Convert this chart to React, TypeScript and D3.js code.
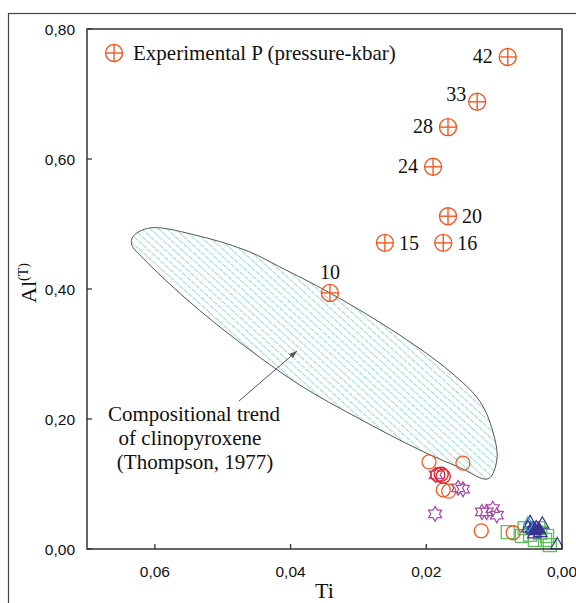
import React from "react";
import * as d3 from "d3";

// Experimental points: Ti, Al(T), pressure label (kbar)
const expTi = [0.008, 0.0125, 0.0168, 0.019, 0.0168, 0.0175, 0.0261, 0.0342];
const expAl = [0.757, 0.688, 0.649, 0.588, 0.512, 0.471, 0.471, 0.394];
const expLabels = ["42", "33", "28", "24", "20", "16", "15", "10"];
const expLabelSide = ["left", "upleft", "left", "left", "right", "right", "right", "top"];

// open orange circles
const circleTi = [0.0196, 0.0146, 0.0175, 0.0167, 0.0119, 0.0072];
const circleAl = [0.134, 0.132, 0.091, 0.089, 0.028, 0.025];

// darker red circles (overlapping)
const redTi = [0.0183, 0.0178, 0.0175];
const redAl = [0.114, 0.115, 0.112];

// purple stars
const starTi = [0.0186, 0.0153, 0.0146, 0.0187, 0.0118, 0.0111, 0.0102, 0.0096];
const starAl = [0.114, 0.094, 0.092, 0.054, 0.057, 0.057, 0.062, 0.052];

// green squares
const squareTi = [0.008, 0.0055, 0.0047, 0.004, 0.0032, 0.0025, 0.0018, 0.0059, 0.0035, 0.0022];
const squareAl = [0.026, 0.032, 0.022, 0.014, 0.025, 0.014, 0.006, 0.02, 0.032, 0.02];

// navy triangles
const triTi = [0.0047, 0.0029, 0.0007, 0.0043, 0.0038, 0.005, 0.0032, 0.0041];
const triAl = [0.04, 0.038, 0.006, 0.029, 0.032, 0.032, 0.025, 0.023];
const triFillTi = [0.0045, 0.0039, 0.0034];
const triFillAl = [0.031, 0.028, 0.03];

// cyan diamond
const diamondTi = [0.005];
const diamondAl = [0.038];

// clinopyroxene trend field outline (Thompson, 1977)
const fieldTi = [0.0632, 0.0607, 0.0533, 0.046, 0.0416, 0.0342, 0.0239, 0.0165, 0.0121, 0.0102, 0.0096, 0.0109, 0.015, 0.0209, 0.0298, 0.0386, 0.0475, 0.0553, 0.0617, 0.0634];
const fieldAl = [0.481, 0.494, 0.481, 0.457, 0.434, 0.394, 0.329, 0.273, 0.227, 0.181, 0.137, 0.108, 0.125, 0.152, 0.2, 0.252, 0.318, 0.384, 0.447, 0.468];

const xTicks = [0.06, 0.04, 0.02, 0.0];
const yTicks = [0.0, 0.2, 0.4, 0.6, 0.8];

const W = 576;
const H = 603;
const left = 87, right = 562, top = 29, bottom = 549;

const x = d3.scaleLinear().domain([0.07, 0]).range([left, right]);
const y = d3.scaleLinear().domain([0, 0.8]).range([bottom, top]);
const fmt = (v: number) => d3.format(".2f")(v).replace(".", ",");

const serif = "'Liberation Serif', 'Times New Roman', serif";
const sans = "'Liberation Sans', Arial, sans-serif";

const ORANGE = "#f15a24";
const RED = "#e3262a";
const PURPLE = "#a84aa8";
const GREEN = "#5cbf5c";
const NAVY = "#3b338f";

function hexagram(r: number) {
  const pts: [number, number][] = [];
  for (let i = 0; i < 12; i++) {
    const a = (Math.PI / 6) * i - Math.PI / 2;
    const rr = i % 2 === 0 ? r : r * 0.58;
    pts.push([rr * Math.cos(a), rr * Math.sin(a)]);
  }
  return "M" + pts.map((p) => p.join(",")).join("L") + "Z";
}

const triPath = d3.symbol().type(d3.symbolTriangle).size(75)() as string;
const diamondPath = d3.symbol().type(d3.symbolDiamond).size(70)() as string;
const starPath = hexagram(7.5);

function labelPos(side: string) {
  switch (side) {
    case "left":
      return { dx: -15, dy: 6, anchor: "end" };
    case "upleft":
      return { dx: -11, dy: -1, anchor: "end" };
    case "right":
      return { dx: 14, dy: 7, anchor: "start" };
    default:
      return { dx: 0, dy: -14, anchor: "middle" };
  }
}

function CrossCircle({ cx, cy }: { cx: number; cy: number }) {
  const r = 8.5;
  return (
    <g stroke={ORANGE} strokeWidth={1.4} fill="none">
      <circle cx={cx} cy={cy} r={r} />
      <line x1={cx - r} x2={cx + r} y1={cy} y2={cy} />
      <line x1={cx} x2={cx} y1={cy - r} y2={cy + r} />
    </g>
  );
}

export default function App() {
  const fieldLine = d3
    .line<number>()
    .x((_, i) => x(fieldTi[i]))
    .y((_, i) => y(fieldAl[i]))
    .curve(d3.curveCatmullRomClosed.alpha(0.5));

  return (
    <svg
      width={W}
      height={H}
      style={{ position: "absolute", left: 0, top: 0, background: "#fff" }}
    >
      <defs>
        <pattern id="hatch" width="12" height="5.6" patternUnits="userSpaceOnUse" patternTransform="rotate(42)">
          <line x1="0" x2="12" y1="2.5" y2="2.5" stroke="#7fd0d0" strokeWidth="0.9" strokeDasharray="5 1" />
        </pattern>
        <clipPath id="plot">
          <rect x={left} y={top} width={right - left} height={bottom - top + 10} />
        </clipPath>
      </defs>

      {/* outer frame */}
      <rect x={8.5} y={13.5} width={620} height={640} fill="none" stroke="#444" strokeWidth={1.2} />

      {/* clinopyroxene field */}
      <path d={fieldLine(fieldTi) as string} fill="url(#hatch)" stroke="#555" strokeWidth={1} />

      {/* annotation */}
      <g fontFamily={serif} fontSize={21} fill="#111" textAnchor="middle">
        <text x={194} y={421}>Compositional trend</text>
        <text x={190} y={445}>of clinopyroxene</text>
        <text x={195} y={469}>(Thompson, 1977)</text>
      </g>
      <line x1={239} y1={401} x2={297} y2={351} stroke="#555" strokeWidth={1} />
      <path d="M297,351 L289,354 L293,358 Z" fill="#555" />

      {/* scatter */}
      <g clipPath="url(#plot)">
        {squareTi.map((t, i) => (
          <rect key={"s" + i} x={x(t) - 6.5} y={y(squareAl[i]) - 6.5} width={13} height={13} fill="none" stroke={GREEN} strokeWidth={1.3} />
        ))}
        {circleTi.map((t, i) => (
          <circle key={"c" + i} cx={x(t)} cy={y(circleAl[i])} r={7} fill="none" stroke={ORANGE} strokeWidth={1.3} />
        ))}
        {starTi.map((t, i) => (
          <path key={"st" + i} d={starPath} transform={`translate(${x(t)},${y(starAl[i])})`} fill="none" stroke={PURPLE} strokeWidth={1.2} />
        ))}
        {redTi.map((t, i) => (
          <circle key={"r" + i} cx={x(t)} cy={y(redAl[i])} r={7} fill="none" stroke={RED} strokeWidth={1.4} />
        ))}
        {triFillTi.map((t, i) => (
          <path key={"tf" + i} d={triPath} transform={`translate(${x(t)},${y(triFillAl[i])})`} fill={NAVY} stroke={NAVY} strokeWidth={1} />
        ))}
        {triTi.map((t, i) => (
          <path key={"t" + i} d={triPath} transform={`translate(${x(t)},${y(triAl[i])})`} fill="none" stroke={NAVY} strokeWidth={1.2} />
        ))}
        {diamondTi.map((t, i) => (
          <path key={"d" + i} d={diamondPath} transform={`translate(${x(t)},${y(diamondAl[i])})`} fill="none" stroke="#3aa8dc" strokeWidth={1.2} />
        ))}
      </g>

      {/* experimental P points */}
      {expTi.map((t, i) => {
        const cx = x(t);
        const cy = y(expAl[i]);
        const lp = labelPos(expLabelSide[i]);
        return (
          <g key={"e" + i}>
            <CrossCircle cx={cx} cy={cy} />
            <text x={cx + lp.dx} y={cy + lp.dy} textAnchor={lp.anchor as any} fontFamily={serif} fontSize={20} fill="#111">
              {expLabels[i]}
            </text>
          </g>
        );
      })}

      {/* legend */}
      <CrossCircle cx={114} cy={53} />
      <text x={133} y={60} fontFamily={serif} fontSize={21} fill="#111">
        Experimental P (pressure-kbar)
      </text>

      {/* axes box */}
      <rect x={left} y={top} width={right - left} height={bottom - top} fill="none" stroke="#333" strokeWidth={1.5} />

      {/* y ticks */}
      {yTicks.map((v) => (
        <g key={"yt" + v}>
          <line x1={left} x2={left + 5} y1={y(v)} y2={y(v)} stroke="#333" strokeWidth={1.3} />
          <text x={75} y={y(v) + 5.5} textAnchor="end" fontFamily={sans} fontSize={15.5} fill="#111">
            {fmt(v)}
          </text>
        </g>
      ))}

      {/* x ticks */}
      {xTicks.map((v) => (
        <g key={"xt" + v}>
          <line x1={x(v)} x2={x(v)} y1={bottom} y2={bottom - 5} stroke="#333" strokeWidth={1.3} />
          <text x={x(v)} y={577} textAnchor="middle" fontFamily={sans} fontSize={15.5} fill="#111">
            {fmt(v)}
          </text>
        </g>
      ))}

      {/* axis titles */}
      <text x={(left + right) / 2} y={598} textAnchor="middle" fontFamily={serif} fontSize={22} fill="#111">
        Ti
      </text>
      <text transform="translate(36,283) rotate(-90)" textAnchor="middle" fontFamily={serif} fontSize={22} fill="#111">
        Al
        <tspan fontSize={14} dy={-8}>(T)</tspan>
      </text>
    </svg>
  );
}
